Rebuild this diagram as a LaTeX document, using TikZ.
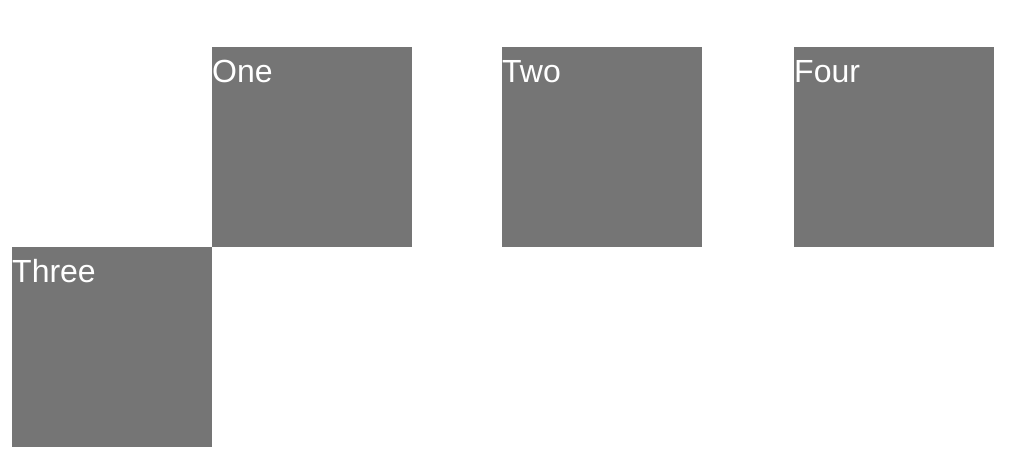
\documentclass[tikz,border=0pt]{standalone}
\usepackage{fontspec}
\setmainfont{Liberation Sans}
\definecolor{boxgray}{RGB}{117,117,117}
\begin{document}
\begin{tikzpicture}[x=1pt,y=-1pt,
  graybox/.style={fill=boxgray,draw=none,minimum width=200pt,minimum height=200pt,inner sep=0pt,outer sep=0pt,anchor=north west},
  boxlabel/.style={text=white,font=\fontsize{32}{36}\selectfont,inner sep=0pt,anchor=base west}]
\useasboundingbox (0,0) rectangle (1010,460);
\node[graybox] (one) at (212,47) {};
\node[graybox] (two) at (502,47) {};
\node[graybox] (four) at (794,47) {};
\node[graybox] (three) at (12,247) {};
\node[boxlabel] (lone) at ([yshift=-35pt]one.north west) {One};
\node[boxlabel] (ltwo) at ([yshift=-35pt]two.north west) {Two};
\node[boxlabel] (lfour) at ([yshift=-35pt]four.north west) {Four};
\node[boxlabel] (lthree) at ([yshift=-35pt]three.north west) {Three};
\end{tikzpicture}
\end{document}
